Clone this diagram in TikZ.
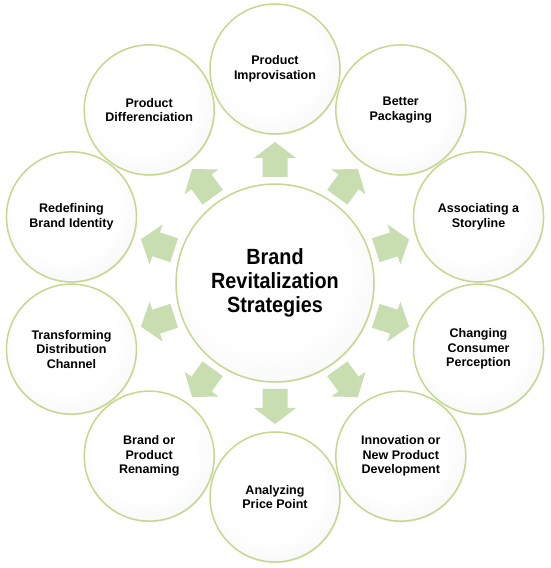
\documentclass[tikz,border=0pt]{standalone}
\usepackage{fontspec}
\setmainfont{Liberation Sans}
\newfontfamily\titlefont{Liberation Sans}[FakeStretch=0.9]
\usetikzlibrary{calc, shadows}
\definecolor{ringgreen}{RGB}{196,216,142}
\definecolor{arrowgreen}{RGB}{200,222,176}
\pgfdeclareradialshading{pearl}{\pgfpoint{-4bp}{6bp}}{color(0bp)=(white); color(20bp)=(white); color(40bp)=(black!6); color(50bp)=(black!12)}
\tikzset{
  bubble/.style={circle, draw=ringgreen, line width=1.5pt, shading=pearl,
    drop shadow={opacity=0.12, shadow xshift=0.8pt, shadow yshift=-1.2pt},
    minimum size=130pt, inner sep=0pt, align=center,
    font=\bfseries\fontsize{12.5}{14.5}\selectfont},
  hub/.style={bubble, minimum size=198pt,
    font=\titlefont\bfseries\fontsize{22}{24}\selectfont},
}

\begin{document}
\begin{tikzpicture}[x=1pt,y=1pt]
    \useasboundingbox (0,0) rectangle (550,568);
    \coordinate (o) at (275,285);

    % Arrows
    \foreach \a in {18,54,...,342} {
        \fill[arrowgreen, shift={(o)}, rotate=\a]
            (106,-12.5) -- (125,-12.5) -- (125,-21) -- (141,0)
            -- (125,21) -- (125,12.5) -- (106,12.5) -- cycle;
    }

    % Outer circles
    \foreach \a/\txt [count=\i] in {
        90/{Product\\Improvisation},
        54/{Better\\Packaging},
        18/{Associating a\\Storyline},
        -18/{Changing\\Consumer\\Perception},
        -54/{Innovation or\\New Product\\Development},
        -90/{Analyzing\\Price Point},
        -126/{Brand or\\Product\\Renaming},
        -162/{Transforming\\Distribution\\Channel},
        162/{Redefining\\Brand Identity},
        126/{Product\\Differenciation}} {
        \node[bubble] (s\i) at ($(o)+(\a:214)$) {\txt};
    }

    % Center
    \node[hub] (c) at (o) {Brand\\Revitalization\\Strategies};
\end{tikzpicture}
\end{document}
